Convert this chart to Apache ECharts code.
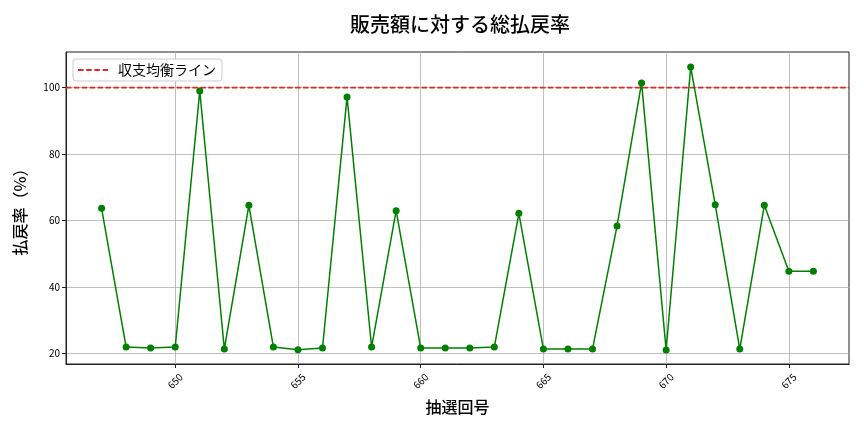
<!DOCTYPE html>
<html><head><meta charset="utf-8">
<script src="https://cdn.jsdelivr.net/npm/echarts@6/dist/echarts.min.js"></script>
<style>html,body{margin:0;padding:0;background:#fff}#c{width:864px;height:432px}</style>
</head><body><div id="c"></div>
<script>
const draws = [647,648,649,650,651,652,653,654,655,656,657,658,659,660,661,662,663,664,665,666,667,668,669,670,671,672,673,674,675,676];
const payoutRate = [63.7,22.0,21.7,22.0,99.0,21.4,64.6,22.0,21.2,21.7,97.2,22.0,63.0,21.7,21.7,21.7,22.0,62.2,21.4,21.4,21.4,58.4,101.4,21.1,106.2,64.8,21.4,64.6,44.8,44.8];
const xTicks = [650,655,660,665,670,675];
const yTicks = [20,40,60,80,100];
const breakEven = 100;
const F = '"Noto Sans CJK JP", "Noto Sans", sans-serif';
const chart = echarts.init(document.getElementById('c'));
const xMin = 645.55, xMax = 677.45;
const dashIcon = 'path://M0,0H5.5V1.8H0Z M8.2,0H13.7V1.8H8.2Z M16.4,0H21.9V1.8H16.4Z M24.6,0H30V1.8H24.6Z';
chart.setOption({
  animation:false,
  textStyle:{fontFamily:F},
  title:{text:'販売額に対する総払戻率',left:345,top:9,textStyle:{fontFamily:F,fontSize:20,fontWeight:500,color:'#000'}},
  legend:{data:[{name:'収支均衡ライン',icon:dashIcon}],left:73,top:59,orient:'vertical',backgroundColor:'#fff',borderColor:'#ccc',borderWidth:1,borderRadius:3,padding:[4,6,4,5],itemWidth:30,itemHeight:2,itemGap:0,textStyle:{fontFamily:F,fontSize:14,color:'#000',padding:[0,0,0,5]}},
  grid:{left:66,right:15,top:52,bottom:68,show:true,borderColor:'#222',borderWidth:1},
  xAxis:{type:'value',min:xMin,max:xMax,name:'抽選回号',nameLocation:'middle',nameGap:35,nameTextStyle:{fontFamily:F,fontSize:16,fontWeight:500,color:'#000'},
    axisLine:{show:true,lineStyle:{color:'#222'}},
    axisTick:{show:true,customValues:xTicks,length:4,lineStyle:{color:'#222'}},
    axisLabel:{customValues:xTicks,rotate:45,align:'center',verticalAlign:'middle',fontSize:10,color:'#000',margin:17},
    splitLine:{show:true,lineStyle:{color:'#b0b0b0',width:0.8}}},
  yAxis:{type:'value',min:16.9,max:110.7,name:'払戻率（%）',nameLocation:'middle',nameGap:38,nameTextStyle:{fontFamily:F,fontSize:16,fontWeight:500,color:'#000'},
    axisLine:{show:true,lineStyle:{color:'#222'}},
    axisTick:{show:true,customValues:yTicks,length:4,lineStyle:{color:'#222'}},
    axisLabel:{customValues:yTicks,fontSize:10,color:'#000',margin:6},
    splitLine:{show:true,lineStyle:{color:'#b0b0b0',width:0.8}}},
  series:[
    {name:'払戻率',type:'line',data:draws.map((d,i)=>[d,payoutRate[i]]),symbol:'circle',symbolSize:7,
     lineStyle:{color:'#008000',width:1.5},itemStyle:{color:'#008000'},z:3},
    {name:'収支均衡ライン',type:'line',data:[[xMin,breakEven],[xMax,breakEven]],symbol:'none',
     lineStyle:{color:'#e02525',width:1.7,type:[5.5,2.4]},itemStyle:{color:'#e02525'},z:2}
  ]
});
</script></body></html>
